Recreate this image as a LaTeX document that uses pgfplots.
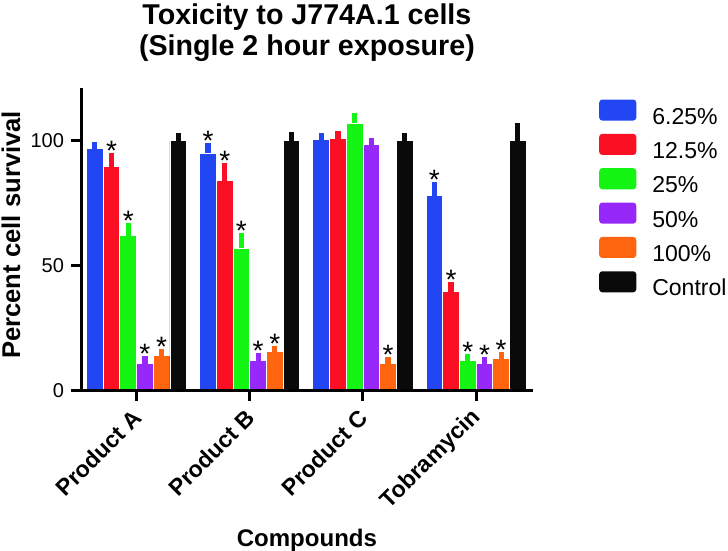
\documentclass[border=0pt]{standalone}
\usepackage{fontspec}
\setmainfont{Liberation Sans}
\usepackage{pgfplots}
\pgfplotsset{compat=1.18}
\usepackage{pgfplotstable}
\definecolor{cBlue}{RGB}{35,70,245}
\definecolor{cRed}{RGB}{250,15,35}
\definecolor{cGreen}{RGB}{20,245,20}
\definecolor{cPurple}{RGB}{150,40,250}
\definecolor{cOrange}{RGB}{255,100,15}
\definecolor{cBlack}{RGB}{10,10,10}
% x: compound index, y: percent survival, e: error (SEM), s: significance star
\pgfplotstableread{
x y e s
0 97 0.5 {}
1 95 2 *
2 100.5 0.5 {}
3 78 3.5 *
}\tBlue
\pgfplotstableread{
x y e s
0 89.5 3.5 *
1 84 5 *
2 101 1 {}
3 39.5 2 *
}\tRed
\pgfplotstableread{
x y e s
0 62 3 *
1 57 4 *
2 107 2 {}
3 12 0.5 *
}\tGreen
\pgfplotstableread{
x y e s
0 11 1 *
1 12 1 *
2 98.5 0.5 {}
3 11 0.5 *
}\tPurple
\pgfplotstableread{
x y e s
0 14 0.5 *
1 15.5 0.5 *
2 11 0.3 *
3 13 0.5 *
}\tOrange
\pgfplotstableread{
x y e s
0 100 1 {}
1 100 1.5 {}
2 100 1 {}
3 100 5 {}
}\tBlack
\pgfplotsset{
  mylegend/.style={legend image code/.code={\fill[##1, draw=none, rounded corners=1.5pt] (0pt,-2pt) rectangle (18.5pt,8.5pt);}},
  myerr/.style={error bars/.cd, y dir=plus, y explicit, error bar style={#1, line width=2.6pt}, error mark options={#1, line width=2.6pt, mark size=2.4pt}},
}
\begin{document}
\begin{tikzpicture}
\useasboundingbox (-40.5pt,-80pt) rectangle (323pt,195pt);
\begin{axis}[
  at={(0,0)}, anchor=south west,
  scale only axis, width=225.5pt, height=151pt,
  xmin=-0.49, xmax=3.5, ymin=0, ymax=121,
  axis lines*=left,
  axis line style={line width=1.5pt, black},
  every tick/.style={black, line width=1.5pt},
  tick align=outside, major tick length=5pt,
  xtick={0,1,2,3},
  xticklabels={Product A, Product B, Product C, Tobramycin},
  ytick={0,50,100},
  /pgf/number format/assume math mode=true,
  yticklabel style={font=\fontsize{10}{12}\selectfont},
  xticklabel style={inner sep=0pt, xshift=0.5pt, yshift=-6.5pt, rotate=45, anchor=east, font=\bfseries\fontsize{11.5}{14}\selectfont},
  title={Toxicity to J774A.1 cells\\(Single 2 hour exposure)},
  title style={at={(0.5,1)}, anchor=south, inner sep=0pt, yshift=7pt, align=center, font=\bfseries\fontsize{14.3}{15.5}\selectfont},
  xlabel={Compounds},
  every axis x label/.style={at={(axis description cs:0.5,0)}, yshift=-78pt, anchor=base, inner sep=0pt, font=\bfseries\fontsize{12}{14}\selectfont},
  ylabel={Percent cell survival},
  every axis y label/.style={at={(axis description cs:0,0.5)}, xshift=-30.5pt, yshift=2.2pt, rotate=90, anchor=base, inner sep=0pt, font=\bfseries\fontsize{12.8}{14}\selectfont},
  ybar=0pt, bar width=0.1475,
  mylegend,
  legend style={at={(1,1)}, anchor=north west, xshift=33pt, yshift=-5.5pt, draw=none, fill=none, inner sep=0pt, font=\fontsize{11.5}{14}\selectfont, row sep=3.4pt, column sep=8pt, nodes={inner sep=0pt, text height=9pt, text depth=1.5pt}},
  legend cell align=left,
  point meta=explicit symbolic,
  visualization depends on={\thisrow{e} \as \err},
  nodes near coords,
  every node near coord/.append style={anchor=south, inner sep=0pt, yshift=\err*1.25pt-1.5pt, font=\fontsize{14}{14}\selectfont, text=black},
  axis on top,
]
\addplot[fill=cBlue, draw=white, line width=0.4pt, myerr=cBlue] table[x=x, y=y, y error=e, meta=s] {\tBlue};
\addlegendentry{6.25\%}
\addplot[fill=cRed, draw=white, line width=0.4pt, myerr=cRed] table[x=x, y=y, y error=e, meta=s] {\tRed};
\addlegendentry{12.5\%}
\addplot[fill=cGreen, draw=white, line width=0.4pt, myerr=cGreen] table[x=x, y=y, y error=e, meta=s] {\tGreen};
\addlegendentry{25\%}
\addplot[fill=cPurple, draw=white, line width=0.4pt, myerr=cPurple] table[x=x, y=y, y error=e, meta=s] {\tPurple};
\addlegendentry{50\%}
\addplot[fill=cOrange, draw=white, line width=0.4pt, myerr=cOrange] table[x=x, y=y, y error=e, meta=s] {\tOrange};
\addlegendentry{100\%}
\addplot[fill=cBlack, draw=white, line width=0.4pt, myerr=cBlack] table[x=x, y=y, y error=e, meta=s] {\tBlack};
\addlegendentry{Control}
\end{axis}
\end{tikzpicture}
\end{document}
